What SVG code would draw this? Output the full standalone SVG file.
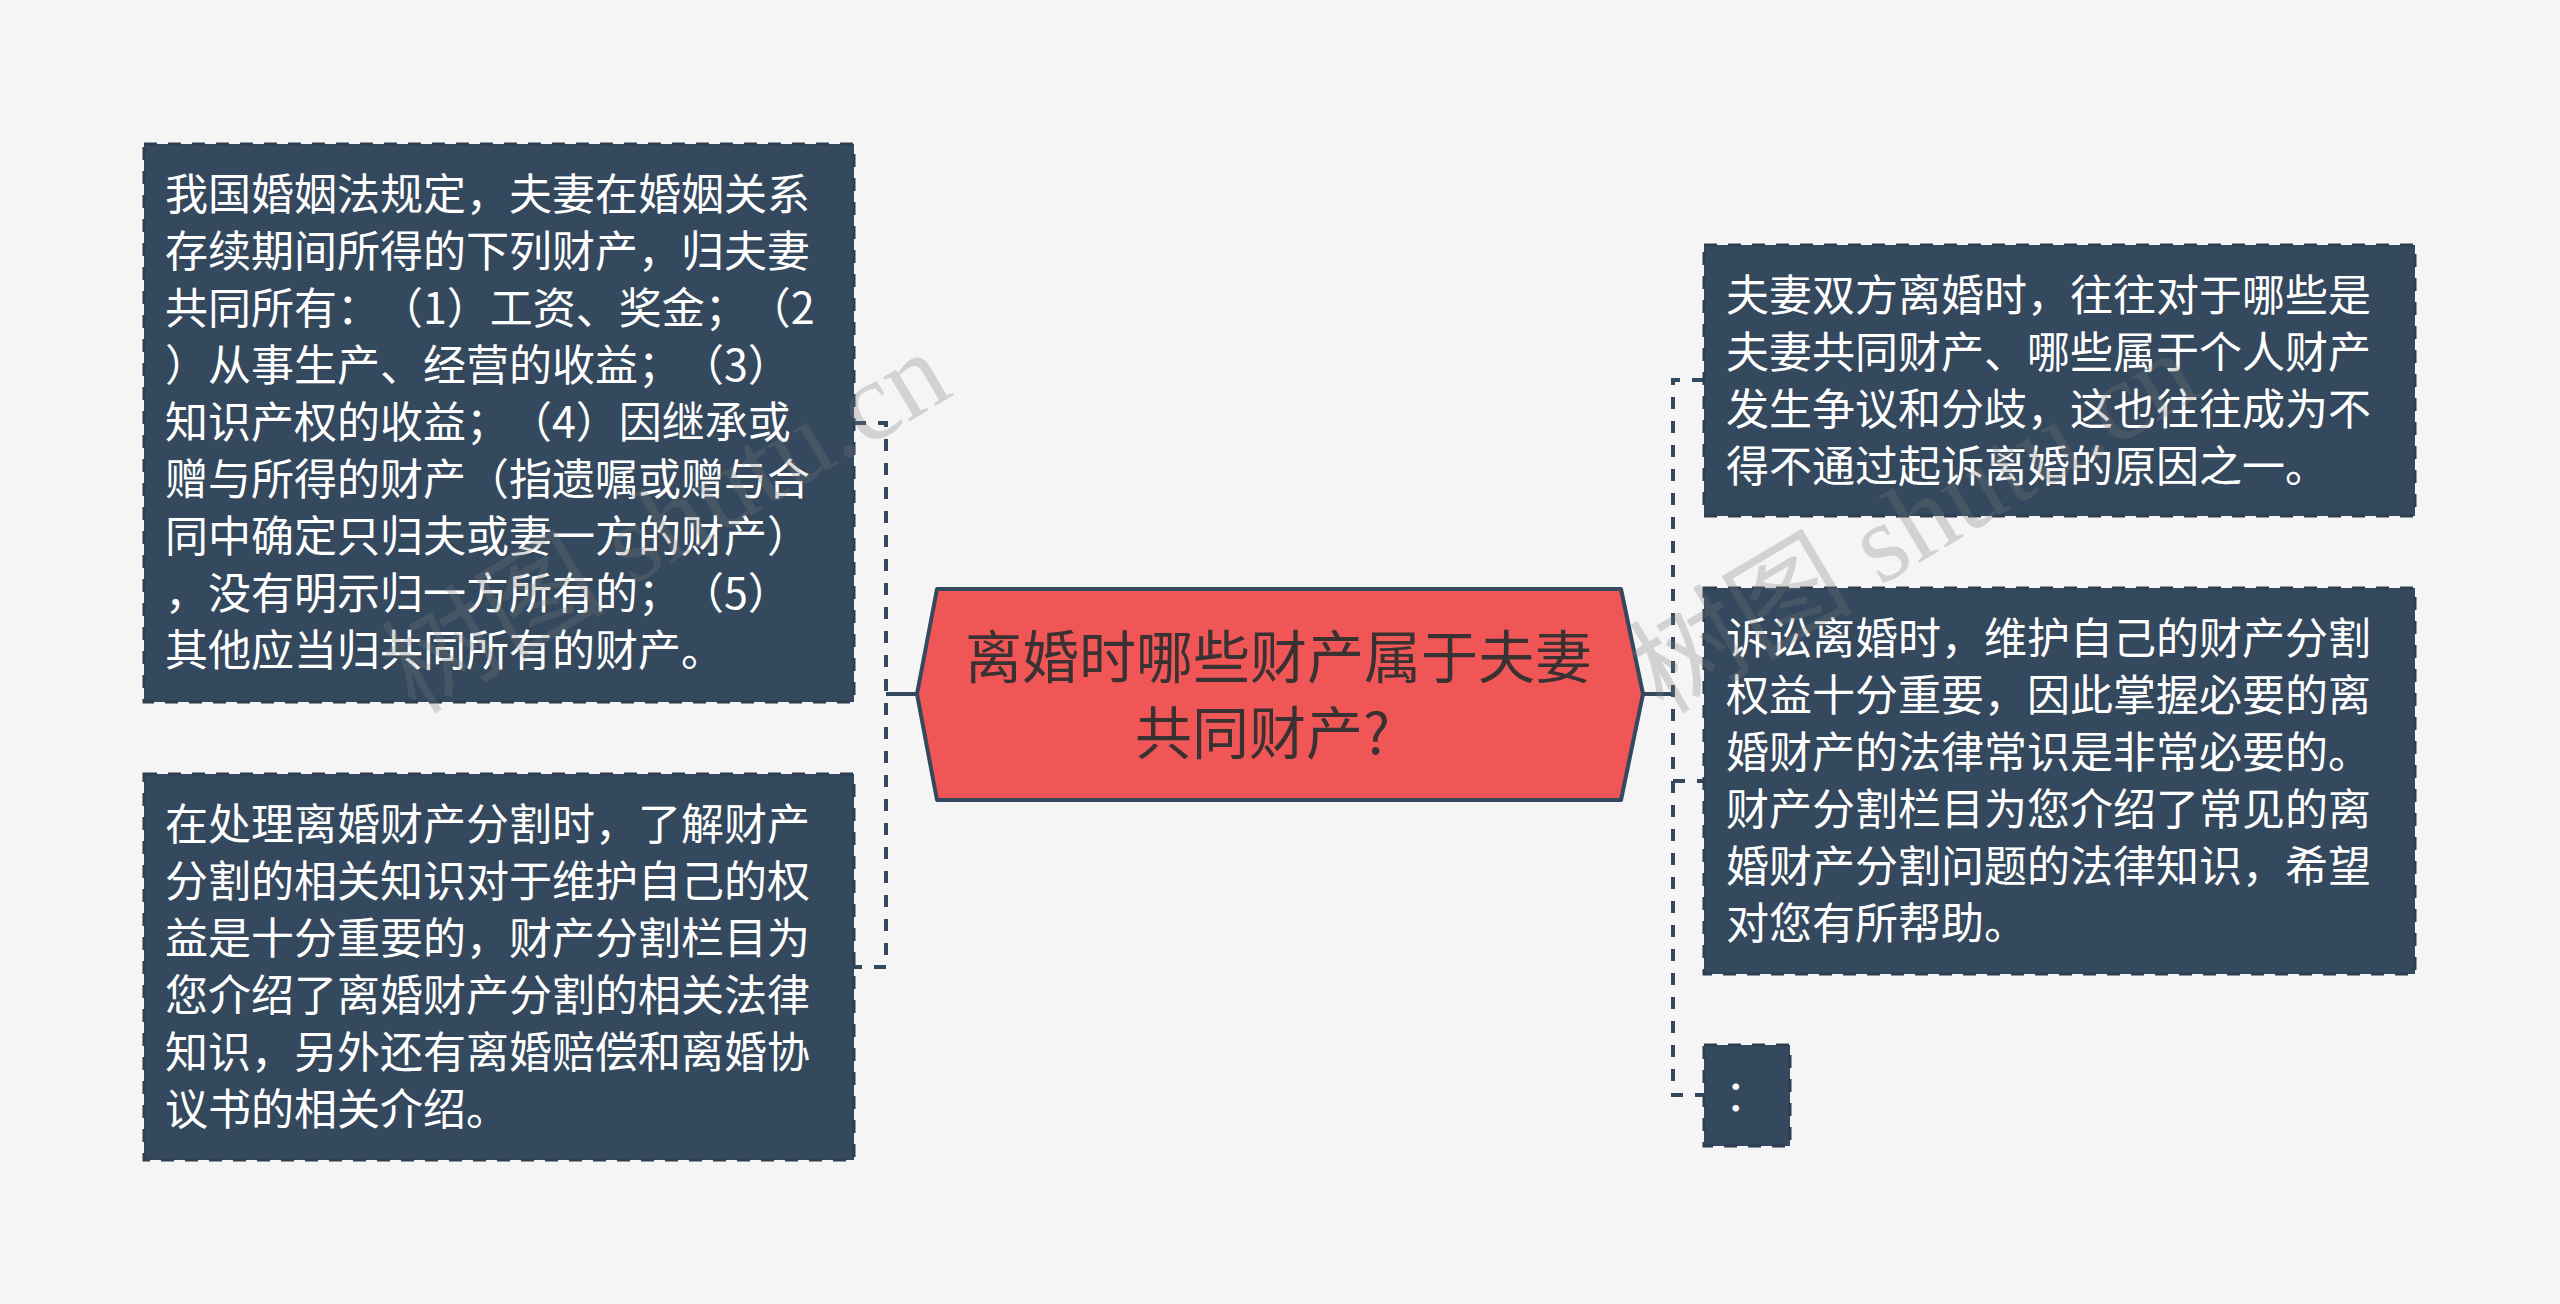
<svg xmlns="http://www.w3.org/2000/svg" width="2560" height="1304" viewBox="0 0 2560 1304">
<style>
.bg{fill:#F5F5F5}
.box{fill:#34495E;stroke:#2C3E50;stroke-width:3;stroke-dasharray:13 11}
.bt{font-family:"Noto Sans CJK SC","Liberation Sans",sans-serif;font-size:43px;fill:#FFFFFF;text-spacing-trim:space-all;font-feature-settings:"halt" 0,"chws" 0}
.hex{fill:#F05656;stroke:#34495E;stroke-width:4;stroke-linejoin:round}
.ht{font-family:"Noto Sans CJK SC","Liberation Sans",sans-serif;font-size:57px;fill:#3A3232;text-spacing-trim:space-all}
.dash{fill:none;stroke:#34495E;stroke-width:4;stroke-dasharray:12 12}
.solid{fill:none;stroke:#34495E;stroke-width:4}
.wm{font-family:"Liberation Serif","Noto Sans CJK SC",serif;font-size:112px;fill:#7A7A7A;opacity:0.28}
</style>
<rect class="bg" x="0" y="0" width="2560" height="1304"/>
<g id="connectors">
<path class="solid" d="M917 694 H886"/>
<path class="dash" d="M854 423 H886 V967 H854"/>
<path class="solid" d="M1643 694 H1673"/>
<path class="dash" d="M1704 380 H1673 V1095 H1704"/>
<path class="dash" d="M1673 781 H1704"/>
</g>
<g id="center">
<polygon class="hex" points="917,694 937,589 1621,589 1643,694 1621,800 937,800"/>
<text class="ht" x="965" y="678">离婚时哪些财产属于夫妻</text>
<text class="ht" x="1135" y="754">共同财产?</text>
</g>
<g id="left1">
<rect class="box" x="144" y="144" width="710" height="558"/>
<text class="bt" x="165" y="210">我国婚姻法规定，夫妻在婚姻关系</text>
<text class="bt" x="165" y="267">存续期间所得的下列财产，归夫妻</text>
<text class="bt" x="165" y="324">共同所有：（1）工资、奖金；（2</text>
<text class="bt" x="165" y="381">）从事生产、经营的收益；（3）</text>
<text class="bt" x="165" y="438">知识产权的收益；（4）因继承或</text>
<text class="bt" x="165" y="495">赠与所得的财产（指遗嘱或赠与合</text>
<text class="bt" x="165" y="552">同中确定只归夫或妻一方的财产）</text>
<text class="bt" x="165" y="609">，没有明示归一方所有的；（5）</text>
<text class="bt" x="165" y="666">其他应当归共同所有的财产。</text>
</g>
<g id="left2">
<rect class="box" x="144" y="774" width="710" height="386"/>
<text class="bt" x="165" y="840">在处理离婚财产分割时，了解财产</text>
<text class="bt" x="165" y="897">分割的相关知识对于维护自己的权</text>
<text class="bt" x="165" y="954">益是十分重要的，财产分割栏目为</text>
<text class="bt" x="165" y="1011">您介绍了离婚财产分割的相关法律</text>
<text class="bt" x="165" y="1068">知识，另外还有离婚赔偿和离婚协</text>
<text class="bt" x="165" y="1125">议书的相关介绍。</text>
</g>
<g id="right1">
<rect class="box" x="1704" y="245" width="711" height="271"/>
<text class="bt" x="1726" y="311">夫妻双方离婚时，往往对于哪些是</text>
<text class="bt" x="1726" y="368">夫妻共同财产、哪些属于个人财产</text>
<text class="bt" x="1726" y="425">发生争议和分歧，这也往往成为不</text>
<text class="bt" x="1726" y="482">得不通过起诉离婚的原因之一。</text>
</g>
<g id="right2">
<rect class="box" x="1704" y="588" width="711" height="386"/>
<text class="bt" x="1726" y="654">诉讼离婚时，维护自己的财产分割</text>
<text class="bt" x="1726" y="711">权益十分重要，因此掌握必要的离</text>
<text class="bt" x="1726" y="768">婚财产的法律常识是非常必要的。</text>
<text class="bt" x="1726" y="825">财产分割栏目为您介绍了常见的离</text>
<text class="bt" x="1726" y="882">婚财产分割问题的法律知识，希望</text>
<text class="bt" x="1726" y="939">对您有所帮助。</text>
</g>
<g id="right3">
<rect class="box" x="1704" y="1045" width="86" height="101"/>
<text class="bt" x="1725" y="1111">：</text>
</g>
<g id="watermark">
<text class="wm" x="415" y="715" transform="rotate(-30.7 415 715)">树图 shutu.cn</text>
<text class="wm" x="1663" y="715" transform="rotate(-30.7 1663 715)">树图 shutu.cn</text>
</g>
</svg>
